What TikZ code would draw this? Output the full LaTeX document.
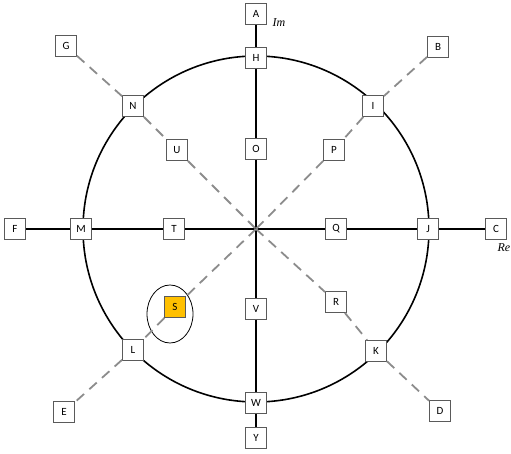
\documentclass[tikz,border=0pt]{standalone}
\usepackage{fontspec}
\setmainfont{Carlito}
\newfontfamily\axfont{Liberation Serif}
\usetikzlibrary{shapes.geometric}
\definecolor{boxline}{RGB}{90,90,90}
\definecolor{dashgray}{RGB}{140,140,140}
\definecolor{sorange}{RGB}{255,192,0}
\tikzset{
  lbox/.style={draw=boxline, line width=0.9pt, fill=white, minimum width=21pt, minimum height=21pt, inner sep=0pt, font=\fontsize{11}{13}\selectfont},
  axis/.style={black, line width=1.6pt},
  diag/.style={dashgray, line width=1.8pt, dash pattern=on 10pt off 7pt},
  ring/.style={black, line width=1.6pt},
  axlabel/.style={font=\axfont\itshape\fontsize{12}{14}\selectfont, inner sep=0pt}
}
\begin{document}
\begin{tikzpicture}[x=1pt,y=-1pt]
\useasboundingbox (0,0) rectangle (511,454);
\coordinate (c) at (256,229);
\draw[ring] (c) circle (173);
\node[draw=black, line width=0.8pt, ellipse, minimum width=46pt, minimum height=58pt, inner sep=0pt] (ell) at (170,314) {};
% nodes
\node[lbox] (A) at (256,14) {A};
\node[lbox] (H) at (256,58) {H};
\node[lbox] (O) at (256,149) {O};
\node[lbox] (V) at (256,309) {V};
\node[lbox] (W) at (256,403) {W};
\node[lbox] (Y) at (256,438) {Y};
\node[lbox] (F) at (15,229) {F};
\node[lbox] (M) at (81,229) {M};
\node[lbox] (T) at (174,229) {T};
\node[lbox] (Q) at (336,229) {Q};
\node[lbox] (J) at (428,229) {J};
\node[lbox] (C) at (496,229) {C};
\node[lbox] (G) at (66,46) {G};
\node[lbox] (N) at (133,106) {N};
\node[lbox] (U) at (177,150) {U};
\node[lbox] (R) at (336,302) {R};
\node[lbox] (K) at (376,351) {K};
\node[lbox] (D) at (440,411) {D};
\node[lbox] (B) at (438,47) {B};
\node[lbox] (I) at (373,106) {I};
\node[lbox] (P) at (334,150) {P};
\node[lbox, fill=sorange] (S) at (175,307) {S};
\node[lbox] (L) at (133,350) {L};
\node[lbox] (E) at (64,412) {E};
\node[axlabel] (im) at (279,23) {Im};
\node[axlabel, anchor=east] (re) at (510.5,248) {Re};
% connectors
\draw[axis] (A) -- (H);
\draw[axis] (H) -- (O);
\draw[axis] (O) -- (c);
\draw[axis] (c) -- (V);
\draw[axis] (V) -- (W);
\draw[axis] (W) -- (Y);
\draw[axis] (F) -- (M);
\draw[axis] (M) -- (T);
\draw[axis] (T) -- (c);
\draw[axis] (c) -- (Q);
\draw[axis] (Q) -- (J);
\draw[axis] (J) -- (C);
\draw[diag] (G) -- (N);
\draw[diag] (N) -- (U);
\draw[diag] (U) -- (c);
\draw[diag] (c) -- (R);
\draw[diag] (R) -- (K);
\draw[diag] (K) -- (D);
\draw[diag] (B) -- (I);
\draw[diag] (I) -- (P);
\draw[diag] (P) -- (c);
\draw[diag] (c) -- (S);
\draw[diag] (S) -- (L);
\draw[diag] (L) -- (E);
\end{tikzpicture}
\end{document}
